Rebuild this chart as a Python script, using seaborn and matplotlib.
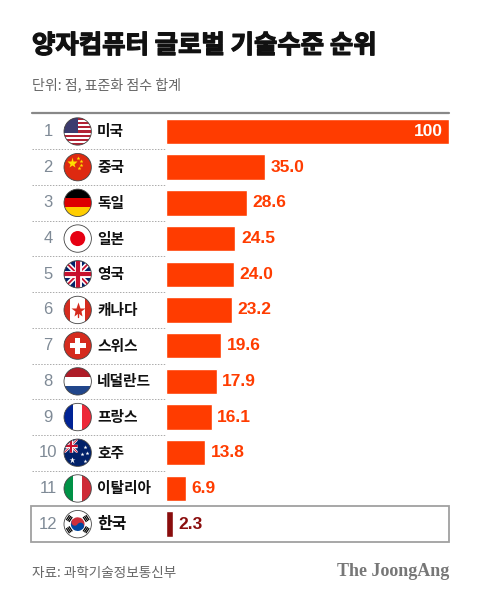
import numpy as np
import pandas as pd
import matplotlib
matplotlib.use('Agg')
import matplotlib.pyplot as plt
import matplotlib.patches as mpatches
import matplotlib.patheffects as pe
import seaborn as sns

# Data
ranks = list(range(1, 13))
countries = ['미국', '중국', '독일', '일본', '영국', '캐나다', '스위스', '네덜란드', '프랑스', '호주', '이탈리아', '한국']
flag_codes = ['us', 'cn', 'de', 'jp', 'gb', 'ca', 'ch', 'nl', 'fr', 'au', 'it', 'kr']
scores = [100, 35.0, 28.6, 24.5, 24.0, 23.2, 19.6, 17.9, 16.1, 13.8, 6.9, 2.3]
score_labels = ['100', '35.0', '28.6', '24.5', '24.0', '23.2', '19.6', '17.9', '16.1', '13.8', '6.9', '2.3']

title = '양자컴퓨터 글로벌 기술수준 순위'
subtitle = '단위: 점, 표준화 점수 합계'
source = '자료: 과학기술정보통신부'
brand = 'The JoongAng'

ORANGE = '#ff3c00'
KOREA = '#8a0d0d'
bar_colors = [ORANGE] * 11 + [KOREA]

sns.set_style('white')
plt.rcParams['font.family'] = ['Noto Sans CJK KR', 'DejaVu Sans']

# Layout in pixels
W, H = 480, 600
LEFT, RIGHT, BAR_X0 = 32, 449, 166
TOP, ROW_H = 113.6, 35.7
N = len(countries)
BOTTOM = TOP + N * ROW_H
FLAG_X, FLAG_R = 77.7, 13.7

fig = plt.figure(figsize=(W / 100, H / 100), dpi=100)
bg = fig.add_axes([0, 0, 1, 1])
bg.set_xlim(0, W)
bg.set_ylim(H, 0)
bg.axis('off')


def add_rect(ax, x, y, w, h, color, clip):
    p = mpatches.Rectangle((x, y), w, h, facecolor=color, edgecolor='none', zorder=3)
    ax.add_patch(p)
    p.set_clip_path(clip)


def add_line(ax, xs, ys, color, lw, clip, z=4):
    ln, = ax.plot(xs, ys, color=color, lw=lw, solid_capstyle='butt', zorder=z)
    ln.set_clip_path(clip)


def union_jack(ax, x0, y0, w, h, clip, k=1.0):
    add_rect(ax, x0, y0, w, h, '#012169', clip)
    add_line(ax, [x0, x0 + w], [y0, y0 + h], 'white', 3.6 * k, clip)
    add_line(ax, [x0, x0 + w], [y0 + h, y0], 'white', 3.6 * k, clip)
    add_line(ax, [x0, x0 + w], [y0, y0 + h], '#c8102e', 1.3 * k, clip)
    add_line(ax, [x0, x0 + w], [y0 + h, y0], '#c8102e', 1.3 * k, clip)
    add_line(ax, [x0 + w / 2, x0 + w / 2], [y0, y0 + h], 'white', 5.0 * k, clip)
    add_line(ax, [x0, x0 + w], [y0 + h / 2, y0 + h / 2], 'white', 5.0 * k, clip)
    add_line(ax, [x0 + w / 2, x0 + w / 2], [y0, y0 + h], '#c8102e', 3.0 * k, clip)
    add_line(ax, [x0, x0 + w], [y0 + h / 2, y0 + h / 2], '#c8102e', 3.0 * k, clip)


def draw_flag(ax, code, cx, cy, r):
    circ = mpatches.Circle((cx, cy), r, facecolor='white', edgecolor='none', zorder=2)
    ax.add_patch(circ)
    d = 2 * r
    if code == 'us':
        s = d / 13
        for k in range(13):
            add_rect(ax, cx - r, cy - r + k * s, d, s, '#b22234' if k % 2 == 0 else 'white', circ)
        add_rect(ax, cx - r, cy - r, r * 1.05, 7 * s, '#3c3b6e', circ)
    elif code == 'cn':
        add_rect(ax, cx - r, cy - r, d, d, '#de2910', circ)
        ax.plot(cx - 5.5, cy - 4, marker='*', ms=8, color='#ffde00', mec='none', zorder=4)
        for dx, dy in [(0, -9), (3, -6), (3.5, -2), (1, 1)]:
            ax.plot(cx + dx, cy + dy, marker='*', ms=3, color='#ffde00', mec='none', zorder=4)
    elif code == 'de':
        for k, c in enumerate(['#000000', '#dd0000', '#ffce00']):
            add_rect(ax, cx - r, cy - r + k * d / 3, d, d / 3, c, circ)
    elif code == 'jp':
        ax.add_patch(mpatches.Circle((cx, cy), r * 0.55, facecolor='#e60012', edgecolor='none', zorder=3))
    elif code == 'gb':
        union_jack(ax, cx - r, cy - r, d, d, circ)
    elif code == 'ca':
        add_rect(ax, cx - r, cy - r, d * 0.22, d, '#d52b1e', circ)
        add_rect(ax, cx + r - d * 0.22, cy - r, d * 0.22, d, '#d52b1e', circ)
        ax.plot(cx, cy + 0.5, marker='*', ms=11, color='#d52b1e', mec='none', zorder=4)
        ax.plot([cx, cx], [cy + 3, cy + 7], color='#d52b1e', lw=1, zorder=4)
    elif code == 'ch':
        add_rect(ax, cx - r, cy - r, d, d, '#d52b1e', circ)
        add_rect(ax, cx - 2.5, cy - 8, 5, 16, 'white', circ)
        add_rect(ax, cx - 8, cy - 2.5, 16, 5, 'white', circ)
    elif code == 'nl':
        for k, c in enumerate(['#ae1c28', '#ffffff', '#21468b']):
            add_rect(ax, cx - r, cy - r + k * d / 3, d, d / 3, c, circ)
    elif code == 'fr':
        for k, c in enumerate(['#002395', '#ffffff', '#ed2939']):
            add_rect(ax, cx - r + k * d / 3, cy - r, d / 3, d, c, circ)
    elif code == 'au':
        add_rect(ax, cx - r, cy - r, d, d, '#012169', circ)
        t = np.linspace(0, 2 * np.pi, 120)
        px = np.clip(cx + r * np.cos(t), cx - r, cx)
        py = np.clip(cy + r * np.sin(t), cy - r, cy)
        quarter = mpatches.Polygon(np.column_stack([px, py]), closed=True, facecolor='none',
                                   edgecolor='none')
        ax.add_patch(quarter)
        union_jack(ax, cx - r, cy - r, r, r, quarter, k=0.5)
        for dx, dy, ms in [(-6, 7, 5), (7, -6, 3), (4, 1, 3), (9, 0, 3), (7, 8, 3)]:
            ax.plot(cx + dx, cy + dy, marker='*', ms=ms, color='white', mec='none', zorder=5)
    elif code == 'it':
        for k, c in enumerate(['#009246', '#ffffff', '#ce2b37']):
            add_rect(ax, cx - r + k * d / 3, cy - r, d / 3, d, c, circ)
    elif code == 'kr':
        R = r * 0.5
        a = np.deg2rad(33.7)
        ax.add_patch(mpatches.Wedge((cx, cy), R, -146.3, 33.7, facecolor='#cd2e3a', edgecolor='none', zorder=3))
        ax.add_patch(mpatches.Wedge((cx, cy), R, 33.7, 213.7, facecolor='#0047a0', edgecolor='none', zorder=3))
        ax.add_patch(mpatches.Circle((cx - R / 2 * np.cos(a), cy - R / 2 * np.sin(a)), R / 2,
                                     facecolor='#cd2e3a', edgecolor='none', zorder=4))
        ax.add_patch(mpatches.Circle((cx + R / 2 * np.cos(a), cy + R / 2 * np.sin(a)), R / 2,
                                     facecolor='#0047a0', edgecolor='none', zorder=4))
        # trigrams on the four diagonals
        for ang in [np.deg2rad(a_) for a_ in (-146.3, -33.7, 33.7, 146.3)]:
            ux, uy = np.cos(ang), np.sin(ang)
            vx, vy = -uy, ux
            for off in (0.62, 0.74, 0.86):
                mx, my = cx + ux * r * off, cy + uy * r * off
                ax.plot([mx - vx * 3, mx + vx * 3], [my - vy * 3, my + vy * 3],
                        color='black', lw=0.9, solid_capstyle='butt', zorder=4)
    ax.add_patch(mpatches.Circle((cx, cy), r, facecolor='none', edgecolor='#444444', lw=0.6, zorder=6))


# Title block (stroke thickens the bold face toward the heavy original)
bg.text(LEFT, 45.5, title, fontsize=18.3, fontweight='bold', va='center', color='#111111',
        path_effects=[pe.withStroke(linewidth=0.9, foreground='#111111')])
bg.text(LEFT, 85, subtitle, fontsize=10.1, va='center', color='#666666')

# Top rule and row separators
bg.plot([LEFT, RIGHT], [113, 113], color='#888888', lw=1.6, zorder=1)
for k in range(1, N - 1):
    y = TOP + k * ROW_H
    bg.plot([LEFT, BAR_X0 - 1], [y, y], color='#aaaaaa', lw=0.7, ls=(0, (1.5, 1.5)), zorder=1)

# Korea highlight box
bg.add_patch(mpatches.Rectangle((LEFT - 1, TOP + (N - 1) * ROW_H), RIGHT - LEFT + 1, ROW_H,
                                facecolor='none', edgecolor='#a0a0a0', lw=1.3, zorder=1))

# Rank, flag and country names
for i, (rank, name, code) in enumerate(zip(ranks, countries, flag_codes)):
    cy = TOP + (i + 0.5) * ROW_H
    bg.text(48, cy, str(rank), ha='center', va='center', fontsize=12, color='#7f8a96',
            family=['Liberation Sans'])
    draw_flag(bg, code, FLAG_X, cy, FLAG_R)
    bg.text(97, cy, name, ha='left', va='center', fontsize=11.5 if name == '한국' else 10.6,
            fontweight='bold', color='#111111')

# Footer
bg.text(LEFT, 573, source, fontsize=9.8, va='center', color='#666666')
bg.text(RIGHT, 572, brand, fontsize=13, ha='right', va='center', fontweight='bold',
        color='#777777', family=['Liberation Serif'])

# Bars
ax = fig.add_axes([BAR_X0 / W, 1 - BOTTOM / H, (RIGHT - BAR_X0) / W, N * ROW_H / H])
df = pd.DataFrame({'country': countries, 'score': scores})
sns.barplot(data=df, x='score', y='country', hue='country', palette=bar_colors,
            saturation=1, width=0.71, legend=False, ax=ax)
ax.set_xlim(0, 100)
ax.set_ylim(N - 0.5, -0.5)
ax.axis('off')
ax.patch.set_visible(False)

for i, (v, lab) in enumerate(zip(scores, score_labels)):
    if v >= 90:
        ax.annotate(lab, xy=(v, i), xytext=(-4.5, 0), textcoords='offset points', ha='right',
                    va='center', fontsize=12.5, fontweight='bold', color='white',
                    family=['Liberation Sans'])
    else:
        ax.annotate(lab, xy=(v, i), xytext=(4, 0), textcoords='offset points', ha='left',
                    va='center', fontsize=12.5, fontweight='bold',
                    color=KOREA if i == N - 1 else ORANGE, family=['Liberation Sans'])

fig.savefig('out.png', dpi=100)
